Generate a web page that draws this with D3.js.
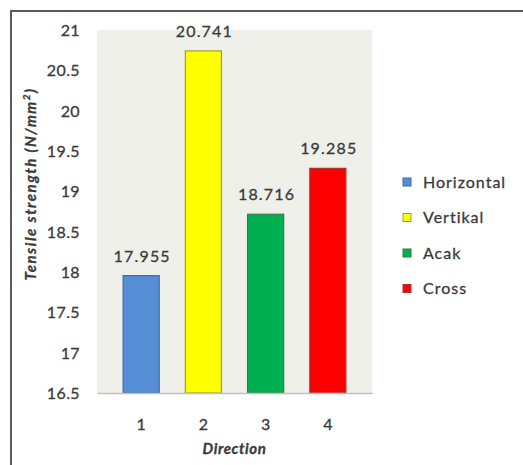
<!DOCTYPE html>
<html lang="en">
<head>
<meta charset="UTF-8">
<title>Tensile strength</title>
<script src="https://d3js.org/d3.v7.min.js"></script>
<style>
    body{ margin:0; background:#fff; }
    text{ font-family: Lato, "Open Sans", sans-serif; fill:#3a3a3a; stroke:#3a3a3a; stroke-width:0.3px; }
</style>
</head>
<body>
<svg id="chart" width="523" height="465"></svg>
<script>
    // data
    let directions = ["1", "2", "3", "4"];
    let names = ["Horizontal", "Vertikal", "Acak", "Cross"];
    let values = [17.955, 20.741, 18.716, 19.285];
    let fills = ["#558ed5", "#ffff00", "#00b050", "#ff0000"];
    let edges = ["#3f6ca6", "#a0a030", "#2f7f4c", "#b03232"];
    let yTicks = [16.5, 17, 17.5, 18, 18.5, 19, 19.5, 20, 20.5, 21];

    let svg = d3.select("#chart");

    // outer frame (cut off at right and bottom)
    svg.append("path")
        .attr("d", "M11,465 V11 H523")
        .attr("fill", "none")
        .attr("stroke", "#5a5a5a")
        .attr("stroke-width", 2);

    let pLeft = 97, pRight = 372, pTop = 30, pBottom = 393;

    let x = d3.scaleBand().domain(directions).range([pLeft, pRight]).padding(0.42);
    let y = d3.scaleLinear().domain([16.5, 21]).range([pBottom, pTop]);

    // plot area
    svg.append("rect")
        .attr("x", pLeft).attr("y", pTop)
        .attr("width", pRight - pLeft).attr("height", pBottom - pTop)
        .attr("fill", "#eff0ea");

    // bars
    svg.selectAll(".bar")
        .data(values)
        .join("rect")
        .attr("class", "bar")
        .attr("x", (d, i) => x(directions[i]))
        .attr("y", d => y(d))
        .attr("width", x.bandwidth())
        .attr("height", d => pBottom - y(d))
        .attr("fill", (d, i) => fills[i])
        .attr("stroke", (d, i) => edges[i])
        .attr("stroke-width", 1.2);

    // value labels
    svg.selectAll(".val")
        .data(values)
        .join("text")
        .attr("class", "val")
        .attr("x", (d, i) => x(directions[i]) + x.bandwidth() / 2 + 1)
        .attr("y", d => y(d) - 14)
        .attr("text-anchor", "middle")
        .attr("font-size", 16)
        .attr("letter-spacing", 1.2)
        .text(d => d3.format(".3f")(d));

    // x axis
    let xAxis = svg.append("g")
        .attr("transform", `translate(0,${pBottom})`)
        .call(d3.axisBottom(x).tickSize(0).tickPadding(26));
    xAxis.select(".domain").attr("stroke", "#c0c0c0").attr("stroke-width", 1.5);
    xAxis.selectAll("text").attr("font-size", 16).attr("fill", "#3a3a3a")
        .style("font-family", "Lato, sans-serif");

    // y axis
    let yAxis = svg.append("g")
        .attr("transform", `translate(${pLeft},0)`)
        .call(d3.axisLeft(y).tickValues(yTicks).tickSize(0).tickPadding(17)
            .tickFormat(d3.format("")));
    yAxis.select(".domain").remove();
    yAxis.selectAll("text").attr("font-size", 16).attr("fill", "#3a3a3a")
        .attr("dy", "0.35em")
        .attr("letter-spacing", 0.4)
        .style("font-family", "Lato, sans-serif");

    // axis titles
    svg.append("text")
        .attr("x", (pLeft + pRight) / 2)
        .attr("y", 454)
        .attr("text-anchor", "middle")
        .attr("font-size", 15)
        .attr("font-weight", "bold")
        .attr("font-style", "italic")
        .attr("letter-spacing", 0.6)
        .text("Direction");

    let yt = svg.append("text")
        .attr("transform", "translate(36,184) rotate(-90)")
        .attr("text-anchor", "middle")
        .attr("font-size", 15)
        .attr("font-weight", "bold")
        .attr("font-style", "italic")
        .attr("letter-spacing", 1.5);
    yt.append("tspan").text("Tensile strength (N/mm");
    yt.append("tspan").attr("font-size", 10).attr("dy", -6).text("2");
    yt.append("tspan").attr("dy", 6).text(")");

    // legend
    let legend = svg.selectAll(".leg")
        .data(names)
        .join("g")
        .attr("class", "leg")
        .attr("transform", (d, i) => `translate(403,${182 + i * 35.5})`);
    legend.append("rect")
        .attr("x", 0).attr("y", -4)
        .attr("width", 8).attr("height", 8)
        .attr("fill", (d, i) => fills[i])
        .attr("stroke", (d, i) => edges[i]);
    legend.append("text")
        .attr("x", 20)
        .attr("dy", "0.35em")
        .attr("font-size", 16)
        .attr("letter-spacing", 1)
        .text(d => d);
</script>
</body>
</html>
